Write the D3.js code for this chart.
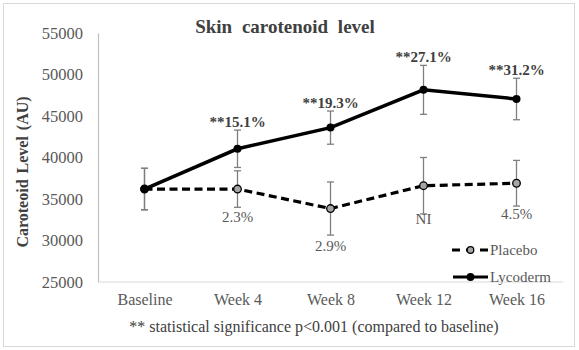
<!DOCTYPE html>
<html><head><meta charset="utf-8">
<script src="https://cdn.jsdelivr.net/npm/d3@7"></script>
<style>body{margin:0;background:#fff}svg{display:block}</style>
</head><body><svg id="c" width="579" height="350"></svg>
<script>
const categories = ["Baseline","Week 4","Week 8","Week 12","Week 16"];
const lycoderm = [36200, 41050, 43600, 48150, 47050];
const lycodermErr = [2500, 2250, 2000, 2950, 2500];
const lycodermLabels = ["", "**15.1%", "**19.3%", "**27.1%", "**31.2%"];
const placebo = [36200, 36200, 33850, 36600, 36900];
const placeboErr = [2500, 2200, 3200, 3400, 2750];
const placeboLabels = ["", "2.3%", "2.9%", "NI", "4.5%"];
const yTicks = [25000,30000,35000,40000,45000,50000,55000];

const svg = d3.select("#c");
const font = "Liberation Serif, Times New Roman, Times, DejaVu Serif, serif";
svg.append("rect").attr("x",3.5).attr("y",3.5).attr("width",571).attr("height",343)
  .attr("fill","#fff").attr("stroke","#d9d9d9").attr("stroke-width",1);

const L=98, R=563, T=33, B=282;
const x = d3.scalePoint().domain(categories).range([L,R]).padding(0.5);
const y = d3.scaleLinear().domain([25000,55000]).range([B,T]);

// axes
const ya = d3.axisLeft(y).tickValues(yTicks).tickSize(0).tickPadding(15).tickFormat(d3.format("d"));
const gy = svg.append("g").attr("transform",`translate(${L},0)`).call(ya);
gy.attr("font-family",null).attr("font-size",null);
gy.select(".domain").attr("stroke","#bfbfbf").attr("stroke-width",1.2);
gy.selectAll("text").style("font-family",font).style("font-size","16.5px").attr("fill","#595959");

const xa = d3.axisBottom(x).tickSize(0).tickPadding(12);
const gx = svg.append("g").attr("transform",`translate(0,${B})`).call(xa);
gx.attr("font-family",null).attr("font-size",null);
gx.select(".domain").attr("stroke","#d9d9d9").attr("stroke-width",1.2).attr("d",`M${L},0H${R}`);
gx.selectAll("text").style("font-family",font).style("font-size","16px").attr("fill","#595959");

function txt(sel){ return sel.style("font-family",font); }
// title
txt(svg.append("text")).attr("x",285).attr("y",33).attr("text-anchor","middle")
  .attr("font-weight","bold").style("font-size","19px").attr("fill","#404040")
  .attr("word-spacing","5px").text("Skin carotenoid level");
// y label
txt(svg.append("text")).attr("transform","translate(28,172) rotate(-90)").attr("text-anchor","middle")
  .attr("font-weight","bold").style("font-size","16px").attr("fill","#404040")
  .attr("word-spacing","2px").text("Caroteoid Level (AU)");
// footnote
txt(svg.append("text")).attr("x",314).attr("y",332).attr("text-anchor","middle")
  .style("font-size","16px").attr("fill","#404040")
  .text("** statistical significance p<0.001 (compared to baseline)");

function errorBars(vals, errs){
  const g = svg.append("g").attr("stroke","#7f7f7f").attr("stroke-width",1.3);
  vals.forEach((v,i)=>{
    const cx = x(categories[i]);
    g.append("line").attr("x1",cx).attr("x2",cx).attr("y1",y(v+errs[i])).attr("y2",y(v-errs[i]));
    [v+errs[i], v-errs[i]].forEach(e=>g.append("line").attr("x1",cx-3.5).attr("x2",cx+3.5).attr("y1",y(e)).attr("y2",y(e)));
  });
}
errorBars(placebo, placeboErr);
errorBars(lycoderm, lycodermErr);

const line = d3.line().x((d,i)=>x(categories[i])).y(d=>y(d));
svg.append("path").datum(placebo).attr("d",line).attr("fill","none").attr("stroke","#000")
  .attr("stroke-width",3.2).attr("stroke-dasharray","8,4.5");
svg.append("path").datum(lycoderm).attr("d",line).attr("fill","none").attr("stroke","#000")
  .attr("stroke-width",3.5);

svg.selectAll(".pm").data(placebo).join("circle").attr("cx",(d,i)=>x(categories[i])).attr("cy",d=>y(d))
  .attr("r",3.8).attr("fill","#a6a6a6").attr("stroke","#000").attr("stroke-width",1.3);
svg.selectAll(".lm").data(lycoderm).join("circle").attr("cx",(d,i)=>x(categories[i])).attr("cy",d=>y(d))
  .attr("r",4).attr("fill","#000");

// data labels
lycodermLabels.forEach((t,i)=>{ if(!t) return;
  txt(svg.append("text")).attr("x",x(categories[i])).attr("y",y(lycoderm[i]+lycodermErr[i])-3.5)
   .attr("text-anchor","middle").attr("font-weight","bold").style("font-size","15px")
   .attr("fill","#404040").text(t);
});
const plOff = [0, 33, 42, 38, 36]; // label baseline offset below the point (px)
placeboLabels.forEach((t,i)=>{ if(!t) return;
  txt(svg.append("text")).attr("x",x(categories[i])).attr("y",y(placebo[i])+plOff[i])
   .attr("text-anchor","middle").style("font-size","15px")
   .attr("fill","#595959").text(t);
});

// legend
const leg = [{name:"Placebo", dash:true, fill:"#a6a6a6", ly:250},
             {name:"Lycoderm", dash:false, fill:"#000", ly:277}];
leg.forEach(d=>{
  const l = svg.append("line").attr("x1",453).attr("x2",488).attr("y1",d.ly).attr("y2",d.ly)
    .attr("stroke","#000").attr("stroke-width",3.2);
  if(d.dash) l.attr("stroke-dasharray","8,6").attr("x1",452);
  svg.append("circle").attr("cx",470.5).attr("cy",d.ly).attr("r",3.3).attr("fill",d.fill)
    .attr("stroke","#000").attr("stroke-width",1.2);
  txt(svg.append("text")).attr("x",490).attr("y",d.ly+5).style("font-size","15px")
    .attr("fill","#595959").text(d.name);
});
</script></body></html>
